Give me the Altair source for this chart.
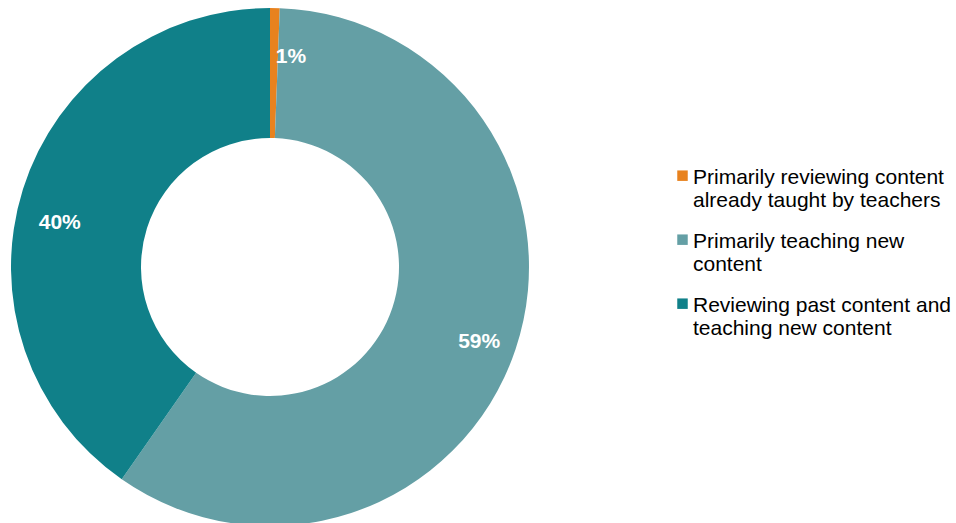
import altair as alt
import pandas as pd

# Share of responses for each approach
categories = [
    "Primarily reviewing content\nalready taught by teachers",
    "Primarily teaching new\ncontent",
    "Reviewing past content and\nteaching new content",
]
shares = [0.006, 0.591, 0.403]
colors = ["#E8821E", "#649FA5", "#108089"]

df = pd.DataFrame({"category": categories, "share": shares, "rank": [0, 1, 2]})

base = alt.Chart(df).encode(
    theta=alt.Theta("share:Q", stack=True),
    order=alt.Order("rank:Q"),
    x=alt.value(270),
    y=alt.value(267),
)

# square swatch nudged down so it sits beside the first label line
swatch = "M-1,0.75H1V2.75H-1Z"

ring = base.mark_arc(innerRadius=129, outerRadius=259).encode(
    color=alt.Color(
        "category:N",
        scale=alt.Scale(domain=categories, range=colors),
        sort=categories,
        legend=alt.Legend(
            title=None,
            orient="none",
            legendX=672,
            legendY=156,
            symbolType=swatch,
            symbolSize=110,
            symbolStrokeWidth=0,
            labelFont="Liberation Sans",
            labelFontSize=21,
            labelColor="#000000",
            labelLimit=400,
            labelOffset=0,
            labelBaseline="top",
            rowPadding=9,
            labelExpr="split(datum.label, '\\n')",
        ),
    )
)

label_style = dict(
    font="Liberation Sans",
    fontSize=21,
    fontWeight="bold",
    color="white",
)

labels = base.mark_text(radius=218, dy=14, **label_style).encode(
    text=alt.Text("share:Q", format=".0%")
).transform_filter("datum.share >= 0.05")

small_label = base.mark_text(radius=212, dx=17, dy=2, **label_style).encode(
    text=alt.Text("share:Q", format=".0%")
).transform_filter("datum.share < 0.05")

chart = (
    alt.layer(ring, labels, small_label)
    .properties(width=956, height=523, padding=0, autosize=alt.AutoSizeParams(type="none"))
    .configure_view(stroke=None)
)

chart.save("out.html", embed_options={"renderer": "svg", "actions": False})
